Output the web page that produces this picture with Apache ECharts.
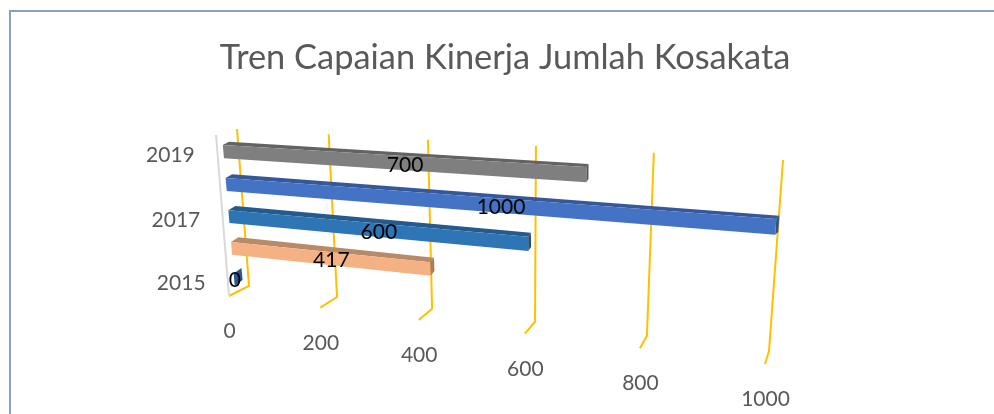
<!DOCTYPE html>
<html><head><meta charset="utf-8">
<script src="https://cdn.jsdelivr.net/npm/echarts@6/dist/echarts.min.js"></script>
<style>html,body{margin:0;padding:0;background:#fff}#c{width:994px;height:414px}</style>
</head><body><div id="c"></div>
<script>
const chartTitle = 'Tren Capaian Kinerja Jumlah Kosakata';
const categories = ['2015','2016','2017','2018','2019'];
const values = [0, 417, 600, 1000, 700];
const valueTicks = [0, 200, 400, 600, 800, 1000];
const categoryLabels = ['2015','2017','2019'];
const barColors = ['#2e75b6','#f4b183','#2e75b6','#4472c4','#7f7f7f'];
const barTopColors = ['#245a8d','#b98a68','#245a8d','#34589a','#636363'];
const barSideColors = ['#245a8d','#a97c5c','#1f4e79','#2f5190','#505050'];

// Perspective planes: unit-square corners (u,h): (0,0),(1,0),(1,1),(0,1)
function makeProj(q){
  const [a,b,c,d]=q;
  const dx1=b[0]-c[0],dx2=d[0]-c[0],sx=a[0]-b[0]+c[0]-d[0];
  const dy1=b[1]-c[1],dy2=d[1]-c[1],sy=a[1]-b[1]+c[1]-d[1];
  const den=dx1*dy2-dx2*dy1;
  const g=(sx*dy2-dx2*sy)/den,h=(dx1*sy-sx*dy1)/den;
  const A=b[0]-a[0]+g*b[0],B=d[0]-a[0]+h*d[0],C=a[0];
  const D=b[1]-a[1]+g*b[1],E=d[1]-a[1]+h*d[1],F=a[1];
  return (u,v)=>{const w=g*u+h*v+1;return [(A*u+B*v+C)/w,(D*u+E*v+F)/w];};
}
const wallPlane  = makeProj([[249,286],[769,351],[783,160],[237,129]]);
const floorFront = makeProj([[229,296],[765,364],[781,170],[216,135]]);
const barFront   = makeProj([[235.5,295],[767.5,360.5],[779.5,166.5],[222,135]]);
const barBack    = makeProj([[243.5,289],[770.5,356.5],[782.5,163.5],[228,132]]);

function norm(params, pt){
  const s=params.coordSys;
  return [(pt[0]-s.x)/s.width,(s.y+s.height-pt[1])/s.height];
}
const FONT='Lato, "Open Sans", sans-serif';
function label(text,p,size,fill){
  return {type:'text',silent:true,z2:50,style:{text:text,x:p[0],y:p[1],fill:fill,
    font:size+'px '+FONT,textAlign:'center',textVerticalAlign:'middle'}};
}
function poly(points,fill){
  return {type:'polygon',silent:true,shape:{points:points},style:{fill:fill,stroke:null}};
}
function line(points,color,w){
  return {type:'polyline',silent:true,shape:{points:points},style:{fill:null,stroke:color,lineWidth:w}};
}

function renderTick(params,api){
  const v=api.value(0);
  const [u]=norm(params,api.coord([v,0]));
  const front=floorFront(u,0);
  return {type:'group',children:[
    line([wallPlane(u,1),wallPlane(u,0),front],'#ffc000',2),
    label(String(valueTicks[params.dataIndex]),[front[0]+0.5,front[1]+35.5],21,'#595959')
  ]};
}
function renderAxis(params,api){
  return line([floorFront(0,1),floorFront(0,0)],'#d9d9d9',2);
}
function renderBar(params,api){
  const i=params.dataIndex, val=api.value(0), cat=api.value(1);
  const band=api.size([0,1])[1]/params.coordSys.height;
  const half=band*0.2;
  const [u1,hc]=norm(params,api.coord([val,cat]));
  const [u0]=norm(params,api.coord([0,cat]));
  const lo=hc-half, hi=hc+half;
  const fbl=barFront(u0,lo),fbr=barFront(u1,lo),ftr=barFront(u1,hi),ftl=barFront(u0,hi);
  const btl=barBack(u0,hi),btr=barBack(u1,hi),bbr=barBack(u1,lo);
  const mid=[(fbl[0]+fbr[0])/2,(fbl[1]+fbr[1]+ftl[1]+ftr[1])/4+2];
  return {type:'group',children:[
    poly([ftl,ftr,btr,btl],barTopColors[i]),
    poly([ftr,fbr,bbr,btr],barSideColors[i]),
    poly([fbl,fbr,ftr,ftl],barColors[i]),
    label(String(values[i]),val===0?[mid[0],mid[1]-1]:mid,21,'#000')
  ]};
}
function renderCat(params,api){
  const cat=api.value(0);
  const [u,h]=norm(params,api.coord([0,cat]));
  const p=barFront(u,h);
  return label(categoryLabels[params.dataIndex],[p[0]-53,p[1]+4],21,'#595959');
}

const chart=echarts.init(document.getElementById('c'),null,{renderer:'canvas'});
chart.setOption({
  animation:false,
  backgroundColor:'#fff',
  title:{text:chartTitle,left:500,top:36,textAlign:'center',
    textStyle:{fontFamily:FONT,fontSize:34.4,fontWeight:'normal',color:'#595959'}},
  graphic:[
    {type:'rect',silent:true,shape:{x:9,y:10,width:985,height:2},style:{fill:'#8ba0c0'}},
    {type:'rect',silent:true,shape:{x:9,y:10,width:2,height:404},style:{fill:'#8ba0c0'}}
  ],
  grid:{left:200,top:120,width:600,height:240},
  xAxis:{type:'value',min:0,max:1000,interval:200,show:false},
  yAxis:{type:'category',data:categories,show:false},
  series:[
    {type:'custom',coordinateSystem:'cartesian2d',clip:false,z:1,renderItem:renderTick,
      data:valueTicks.map(t=>[t,0]),encode:{x:0,y:1}},
    {type:'custom',coordinateSystem:'cartesian2d',clip:false,z:2,renderItem:renderAxis,
      data:[[0,0]],encode:{x:0,y:1}},
    {type:'custom',coordinateSystem:'cartesian2d',clip:false,z:3,renderItem:renderBar,
      data:values.map((v,i)=>[v,i]),encode:{x:0,y:1}},
    {type:'custom',coordinateSystem:'cartesian2d',clip:false,z:4,renderItem:(p,a)=>renderCat(p,a),
      data:categoryLabels.map(c=>[categories.indexOf(c),0]),encode:{x:1,y:0}}
  ]
});
</script></body></html>
